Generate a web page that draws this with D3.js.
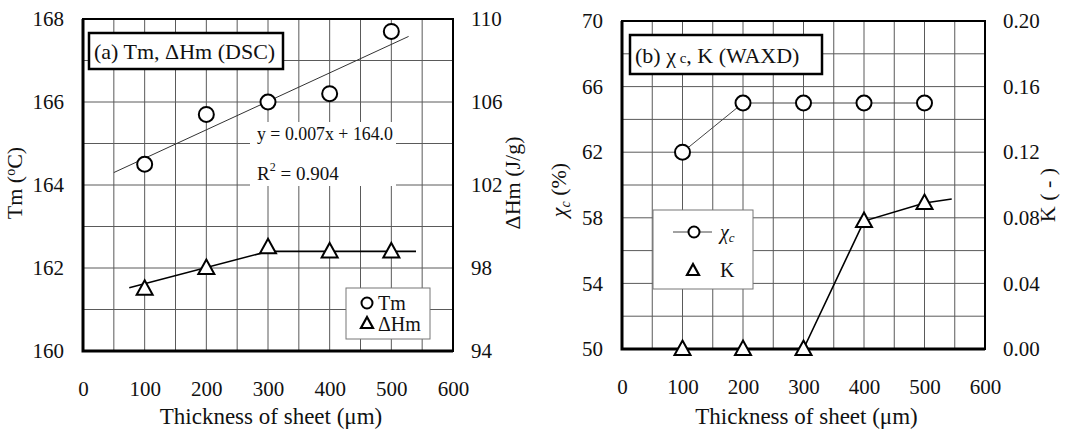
<!DOCTYPE html>
<html>
<head>
<meta charset="utf-8">
<script src="https://cdn.jsdelivr.net/npm/d3@7"></script>
<style>
  body { margin: 0; background: #fff; }
  svg text { font-family: "Liberation Serif", "Times New Roman", serif; fill: #111; }
</style>
</head>
<body>
<svg id="chart" width="1070" height="429"></svg>
<script>
// ---------- data ----------
const thickness   = [100, 200, 300, 400, 500];
const xTicks      = [0, 100, 200, 300, 400, 500, 600];

// (a) DSC
const tmValues    = [164.5, 165.7, 166.0, 166.2, 167.7];
const dhmValues   = [97.0, 98.0, 99.0, 98.8, 98.8];
const tmTrend     = [[50, 164.3], [528, 167.58]];          // drawn regression line
const dhmGuide    = [[75, 97.05], [300, 98.8], [540, 98.8]]; // hand guide line
const tmTicks     = [160, 162, 164, 166, 168];
const dhmTicks    = [94, 98, 102, 106, 110];
const fitText     = ["y = 0.007x + 164.0", "R² = 0.904"];

// (b) WAXD
const chiValues   = [62, 65, 65, 65, 65];
const kValues     = [0, 0, 0, 0.078, 0.089];
const kGuide      = [[300, 0], [400, 0.078], [500, 0.089], [545, 0.0915]];
const chiTicks    = [50, 54, 58, 62, 66, 70];
const kTicks      = [0, 0.04, 0.08, 0.12, 0.16, 0.20];

// ---------- helpers ----------
const svg = d3.select("#chart");
const gridColor = "#5a5a5a";
const tickSize = 21;    // tick label font
const labelSize = 22;   // titles and axis names

const triPath = "M0,-8.5L8,6L-8,6Z";

function panel(o) {
  const g = svg.append("g");
  const x = d3.scaleLinear().domain([0, 600]).range([o.left, o.right]);
  const yL = d3.scaleLinear().domain(o.yLDomain).range([o.bottom, o.top]);
  const yR = d3.scaleLinear().domain(o.yRDomain).range([o.bottom, o.top]);

  // grid
  g.append("g").selectAll("line")
    .data(d3.range(50, 600, 50))
    .join("line")
    .attr("x1", d => x(d)).attr("x2", d => x(d))
    .attr("y1", o.top).attr("y2", o.bottom)
    .attr("stroke", gridColor).attr("stroke-width", 1);
  g.append("g").selectAll("line")
    .data(o.gridY)
    .join("line")
    .attr("x1", o.left).attr("x2", o.right)
    .attr("y1", d => yL(d)).attr("y2", d => yL(d))
    .attr("stroke", gridColor).attr("stroke-width", 1);

  // frame
  g.append("rect")
    .attr("x", o.left).attr("y", o.top)
    .attr("width", o.right - o.left).attr("height", o.bottom - o.top)
    .attr("fill", "none").attr("stroke", "#000").attr("stroke-width", 2);
  g.append("path")
    .attr("d", `M${o.left},${o.top}V${o.bottom}H${o.right}`)
    .attr("fill", "none").attr("stroke", "#000").attr("stroke-width", 3);

  // axes (labels only, no tick marks)
  const axL = d3.axisLeft(yL).tickValues(o.yLTicks).tickSize(0).tickPadding(19).tickFormat(o.yLFormat);
  const axR = d3.axisRight(yR).tickValues(o.yRTicks).tickSize(0).tickPadding(18).tickFormat(o.yRFormat);
  const axB = d3.axisBottom(x).tickValues(xTicks).tickSize(0).tickPadding(30).tickFormat(d3.format("d"));
  [[axL, `translate(${o.left},0)`], [axR, `translate(${o.right},0)`], [axB, `translate(0,${o.bottom})`]]
    .forEach(([ax, tr]) => {
      const a = g.append("g").attr("transform", tr).call(ax);
      a.select(".domain").remove();
      a.selectAll("text").style("font-size", tickSize + "px").style("font-family", "Liberation Serif").attr("fill", "#111");
    });

  // axis titles
  g.append("text")
    .attr("x", (o.left + o.right) / 2 + 3).attr("y", 424)
    .attr("text-anchor", "middle").style("font-size", (labelSize + 1) + "px")
    .text("Thickness of sheet (μm)");

  return { g, x, yL, yR };
}

function circles(g, xs, ys, x, y) {
  g.append("g").selectAll("circle")
    .data(xs.map((d, i) => [d, ys[i]]))
    .join("circle")
    .attr("cx", d => x(d[0])).attr("cy", d => y(d[1]))
    .attr("r", 7.5).attr("fill", "#fff").attr("stroke", "#000").attr("stroke-width", 2);
}

function triangles(g, xs, ys, x, y) {
  g.append("g").selectAll("path")
    .data(xs.map((d, i) => [d, ys[i]]))
    .join("path")
    .attr("d", triPath)
    .attr("transform", d => `translate(${x(d[0])},${y(d[1])})`)
    .attr("fill", "#fff").attr("stroke", "#000").attr("stroke-width", 2);
}

function titleBox(g, x0, y0, w, h, build) {
  g.append("rect").attr("x", x0).attr("y", y0).attr("width", w).attr("height", h)
    .attr("fill", "#fff").attr("stroke", "#000").attr("stroke-width", 2.5);
  const t = g.append("text").attr("x", x0 + 5).attr("y", y0 + h / 2 + 8).style("font-size", labelSize + "px");
  build(t);
}

function rotLabel(g, cx, cy, build) {
  const t = g.append("text")
    .attr("transform", `translate(${cx},${cy}) rotate(-90)`)
    .attr("text-anchor", "middle").style("font-size", labelSize + "px");
  build(t);
}

// ---------- (a) Tm, ΔHm ----------
const a = panel({
  left: 83, right: 453, top: 19, bottom: 351,
  yLDomain: [160, 168], yRDomain: [94, 110],
  gridY: d3.range(161, 168, 1),
  yLTicks: tmTicks, yRTicks: dhmTicks,
  yLFormat: d3.format("d"), yRFormat: d3.format("d")
});

// white area behind the fit text
a.g.append("rect").attr("x", 250).attr("y", 122).attr("width", 146).attr("height", 64).attr("fill", "#fff");

const line = d3.line();
a.g.append("path")
  .attr("d", line(tmTrend.map(d => [a.x(d[0]), a.yL(d[1])])))
  .attr("fill", "none").attr("stroke", "#333").attr("stroke-width", 1);
a.g.append("path")
  .attr("d", line(dhmGuide.map(d => [a.x(d[0]), a.yR(d[1])])))
  .attr("fill", "none").attr("stroke", "#000").attr("stroke-width", 1.6);

circles(a.g, thickness, tmValues, a.x, a.yL);
triangles(a.g, thickness, dhmValues, a.x, a.yR);

a.g.append("text").attr("x", 257).attr("y", 140).style("font-size", "19px")
  .attr("textLength", 136).attr("lengthAdjust", "spacingAndGlyphs").text(fitText[0]);
a.g.append("text").attr("x", 257).attr("y", 180).style("font-size", "19px")
  .call(t => {
    t.append("tspan").text("R");
    t.append("tspan").attr("dy", -9).style("font-size", "12px").text("2");
    t.append("tspan").attr("dy", 9).text(" = " + fitText[1].split("= ")[1]);
  });

titleBox(a.g, 89, 33, 194, 36, t => t.text("(a) Tm, ΔHm (DSC)"));

// legend (a)
a.g.append("rect").attr("x", 346).attr("y", 288).attr("width", 84).attr("height", 51)
  .attr("fill", "#fff").attr("stroke", "#777").attr("stroke-width", 1);
a.g.append("circle").attr("cx", 367).attr("cy", 303).attr("r", 5.5)
  .attr("fill", "#fff").attr("stroke", "#000").attr("stroke-width", 2);
a.g.append("path").attr("d", "M0,-6L6,5L-6,5Z").attr("transform", "translate(367,323)")
  .attr("fill", "#fff").attr("stroke", "#000").attr("stroke-width", 2.2);
a.g.append("text").attr("x", 378).attr("y", 310).style("font-size", "20px").text("Tm");
a.g.append("text").attr("x", 378).attr("y", 331).style("font-size", "20px").text("ΔHm");

rotLabel(a.g, 22, 183, t => {
  t.append("tspan").text("Tm (");
  t.append("tspan").attr("dy", -7).style("font-size", "14px").text("o");
  t.append("tspan").attr("dy", 7).text("C)");
});
rotLabel(a.g, 520, 183, t => t.text("ΔHm (J/g)"));

// ---------- (b) χc, K ----------
const b = panel({
  left: 622, right: 985, top: 21, bottom: 349,
  yLDomain: [50, 70], yRDomain: [0, 0.2],
  gridY: d3.range(52, 70, 2),
  yLTicks: chiTicks, yRTicks: kTicks,
  yLFormat: d3.format("d"), yRFormat: d3.format(".2f")
});

b.g.append("path")
  .attr("d", line(thickness.map((d, i) => [b.x(d), b.yL(chiValues[i])])))
  .attr("fill", "none").attr("stroke", "#444").attr("stroke-width", 1);
b.g.append("path")
  .attr("d", line(kGuide.map(d => [b.x(d[0]), b.yR(d[1])])))
  .attr("fill", "none").attr("stroke", "#000").attr("stroke-width", 1.6);

circles(b.g, thickness, chiValues, b.x, b.yL);
triangles(b.g, thickness, kValues, b.x, b.yR);

titleBox(b.g, 630, 35, 192, 39, t => {
  t.append("tspan").text("(b)  χ");
  t.append("tspan").style("font-size", "15px").text(" c");
  t.append("tspan").text(", K (WAXD)");
});

// legend (b)
b.g.append("rect").attr("x", 653).attr("y", 210).attr("width", 100).attr("height", 79)
  .attr("fill", "#fff").attr("stroke", "#777").attr("stroke-width", 1);
b.g.append("line").attr("x1", 673).attr("x2", 712).attr("y1", 232).attr("y2", 232)
  .attr("stroke", "#444").attr("stroke-width", 1);
b.g.append("circle").attr("cx", 694).attr("cy", 232).attr("r", 5.5)
  .attr("fill", "#fff").attr("stroke", "#000").attr("stroke-width", 2);
b.g.append("path").attr("d", "M0,-6L6,5L-6,5Z").attr("transform", "translate(693,270)")
  .attr("fill", "#fff").attr("stroke", "#000").attr("stroke-width", 2.2);
b.g.append("text").attr("x", 720).attr("y", 239).style("font-size", "20px").style("font-style", "italic")
  .call(t => {
    t.append("tspan").text("χ");
    t.append("tspan").attr("dy", 3).style("font-size", "13px").text("c");
  });
b.g.append("text").attr("x", 720).attr("y", 277).style("font-size", "20px").text("K");

rotLabel(b.g, 566, 190, t => {
  t.append("tspan").style("font-style", "italic").text("χ");
  t.append("tspan").attr("dy", 4).style("font-size", "14px").style("font-style", "italic").text("c");
  t.append("tspan").attr("dy", -4).text("  (%)");
});
rotLabel(b.g, 1055, 195, t => t.text("K ( - )"));
</script>
</body>
</html>
